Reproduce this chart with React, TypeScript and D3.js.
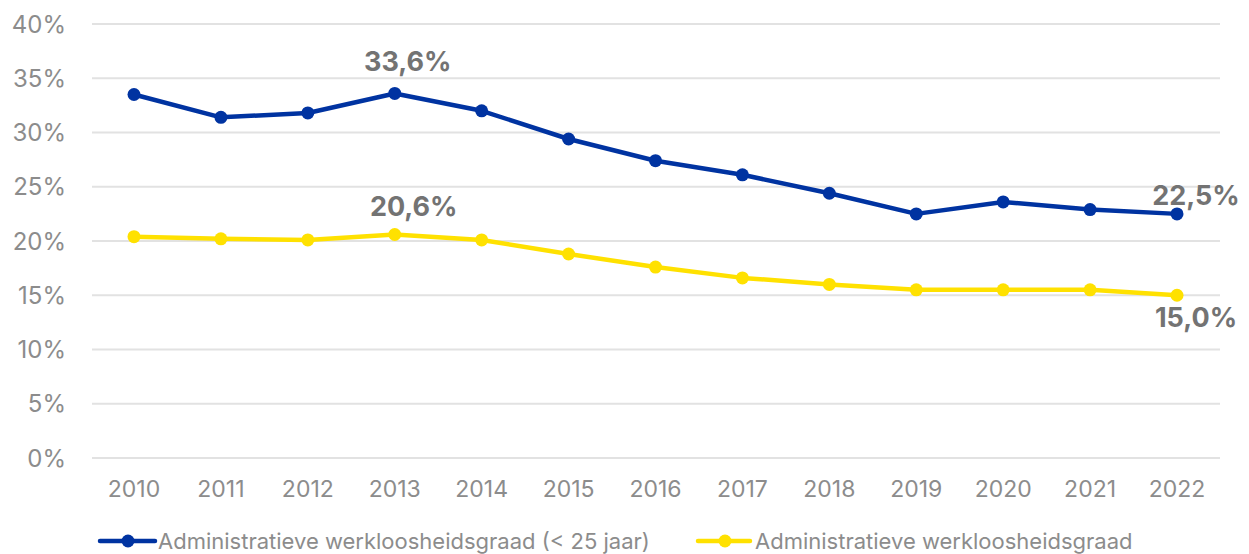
import React from "react";
import * as d3 from "d3";

const years = ["2010","2011","2012","2013","2014","2015","2016","2017","2018","2019","2020","2021","2022"];
const youth = [33.5, 31.4, 31.8, 33.6, 32.0, 29.4, 27.4, 26.1, 24.4, 22.5, 23.6, 22.9, 22.5];
const overall = [20.4, 20.2, 20.1, 20.6, 20.1, 18.8, 17.6, 16.6, 16.0, 15.5, 15.5, 15.5, 15.0];
const yTicks = [0, 5, 10, 15, 20, 25, 30, 35, 40];
const seriesNames = ["Administratieve werkloosheidsgraad (< 25 jaar)", "Administratieve werkloosheidsgraad"];

const BLUE = "#0033a1";
const YELLOW = "#ffe100";
const FONT = "Inter, 'Open Sans', sans-serif";

export default function App() {
  const W = 1249, H = 554;
  const x = d3.scalePoint<string>().domain(years).range([134, 1177]);
  const y = d3.scaleLinear().domain([0, 40]).range([458, 24]);
  const line = d3.line<number>().x((_, i) => x(years[i])!).y(d => y(d));
  const fmt = (v: number) => v.toFixed(1).replace(".", ",") + "%";

  return (
    <svg width={W} height={H} style={{ position: "absolute", left: 0, top: 0, background: "#fff" }} fontFamily={FONT}>
      {yTicks.map(t => (
        <g key={t}>
          <line x1={92} x2={1220} y1={y(t)} y2={y(t)} stroke="#e2e2e2" strokeWidth={2} />
          <text x={66} y={y(t)} dy="0.36em" textAnchor="end" fontSize={24} fill="#8c8c8c">{t}%</text>
        </g>
      ))}
      {years.map(yr => (
        <text key={yr} x={x(yr)} y={497} textAnchor="middle" fontSize={23} fill="#8c8c8c">{yr}</text>
      ))}
      <path d={line(youth)!} fill="none" stroke={BLUE} strokeWidth={4.5} strokeLinejoin="round" />
      <path d={line(overall)!} fill="none" stroke={YELLOW} strokeWidth={4.5} strokeLinejoin="round" />
      {youth.map((v, i) => <circle key={"b" + i} cx={x(years[i])} cy={y(v)} r={6.5} fill={BLUE} />)}
      {overall.map((v, i) => <circle key={"y" + i} cx={x(years[i])} cy={y(v)} r={6.5} fill={YELLOW} />)}
      <text x={x("2013")! + 13} y={y(youth[3]) - 22} textAnchor="middle" fontSize={27} fontWeight="bold" fill="#737373">{fmt(youth[3])}</text>
      <text x={x("2013")! + 19} y={y(overall[3]) - 18} textAnchor="middle" fontSize={27} fontWeight="bold" fill="#737373">{fmt(overall[3])}</text>
      <text x={x("2022")! + 19} y={y(youth[12]) - 9} textAnchor="middle" fontSize={27} fontWeight="bold" fill="#737373">{fmt(youth[12])}</text>
      <text x={x("2022")! + 19} y={y(overall[12]) + 32} textAnchor="middle" fontSize={27} fontWeight="bold" fill="#737373">{fmt(overall[12])}</text>
      <g>
        <line x1={100} x2={155} y1={541} y2={541} stroke={BLUE} strokeWidth={4.5} strokeLinecap="round" />
        <circle cx={128} cy={541} r={6.5} fill={BLUE} />
        <text x={158} y={541} dy="0.36em" fontSize={22} fill="#8c8c8c">{seriesNames[0]}</text>
        <line x1={698} x2={750} y1={541} y2={541} stroke={YELLOW} strokeWidth={4.5} strokeLinecap="round" />
        <circle cx={725} cy={541} r={6.5} fill={YELLOW} />
        <text x={755} y={541} dy="0.36em" fontSize={22} fill="#8c8c8c">{seriesNames[1]}</text>
      </g>
    </svg>
  );
}
